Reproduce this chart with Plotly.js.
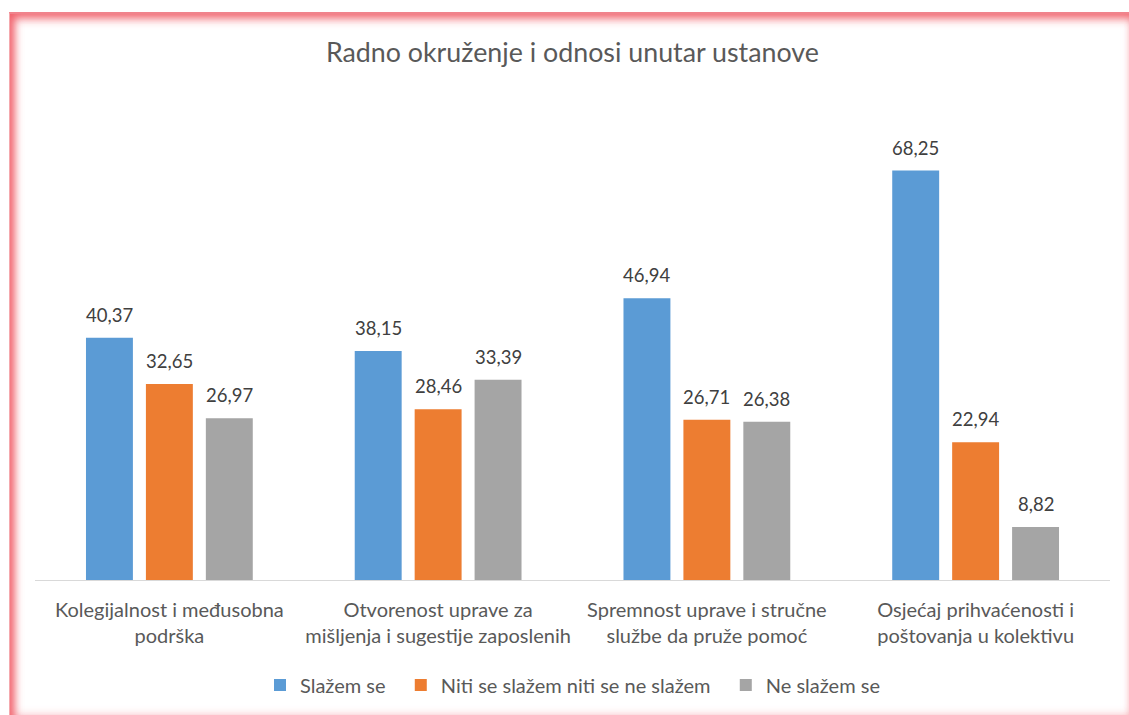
<!DOCTYPE html>
<html><head><meta charset="utf-8">
<script src="https://cdn.plot.ly/plotly-3.0.1.min.js"></script>
<style>
html,body{margin:0;padding:0;background:#fff;}
#wrap{position:relative;width:1129px;height:715px;overflow:hidden;}
#chart{position:absolute;left:0;top:0;width:1129px;height:715px;}
#frame{position:absolute;left:9px;top:12px;width:1124px;height:708px;pointer-events:none;
box-shadow: inset 5px 0 9px rgba(240,90,100,0.75), inset 0 5px 10px rgba(240,90,100,0.7), inset -4px 0 8px rgba(245,140,150,0.35), inset 0 -7px 10px rgba(245,140,150,0.45);
border-top:2px solid rgba(238,110,120,0.85);border-left:1px solid rgba(238,110,120,0.6);}
</style></head>
<body><div id="wrap"><div id="chart"></div><div id="frame"></div></div>
<script>
const categories = [
  "Kolegijalnost i međusobna<br>podrška",
  "Otvorenost uprave za<br>mišljenja i sugestije zaposlenih",
  "Spremnost uprave i stručne<br>službe da pruže pomoć",
  "Osjećaj prihvaćenosti i<br>poštovanja u kolektivu"
];
const seriesNames = ["Slažem se", "Niti se slažem niti se ne slažem", "Ne slažem se"];
const slazem = [40.37, 38.15, 46.94, 68.25];
const niti = [32.65, 28.46, 26.71, 22.94];
const neSlazem = [26.97, 33.39, 26.38, 8.82];
const colors = ["#5B9BD5", "#ED7D31", "#A5A5A5"];
const values = [slazem, niti, neSlazem];

const FONT = "Lato, 'Open Sans', sans-serif";
const fmt = v => v.toFixed(2).replace(".", ",");
const pad = "\u00a0\u00a0";
const traces = values.map((vals, i) => ({
  type: "bar",
  name: i < values.length - 1 ? seriesNames[i] + pad : seriesNames[i],
  x: categories,
  y: vals,
  marker: {color: colors[i]},
  hoverinfo: "none"
}));

// data labels through the axis scales; shift sideways by the grouped-bar slot
const slot = 60;
const annotations = [];
values.forEach((vals, i) => {
  vals.forEach((v, j) => {
    annotations.push({
      x: categories[j], y: v, xref: "x", yref: "y",
      text: fmt(v), showarrow: false,
      xshift: (i - 1) * slot, yshift: 23, yanchor: "middle",
      font: {family: FONT, size: 18.5, color: "#404040"}
    });
  });
});

const layout = {
  width: 1129, height: 715,
  paper_bgcolor: "rgba(0,0,0,0)", plot_bgcolor: "rgba(0,0,0,0)",
  margin: {l: 35, r: 19, t: 100, b: 134},
  title: {text: "Radno okruženje i odnosi unutar ustanove", x: 0.507, xanchor: "center", y: 0.926, yanchor: "middle",
    font: {family: FONT, size: 26.8, color: "#595959"}},
  barmode: "group", bargap: 0.331, bargroupgap: 0.217,
  xaxis: {showgrid: false, showline: true, linecolor: "#D9D9D9", linewidth: 1.3, ticks: "",
    ticklabelstandoff: 12,
    tickfont: {family: FONT, size: 20, color: "#595959"}, fixedrange: true},
  yaxis: {range: [0, 80], showgrid: false, zeroline: false, showticklabels: false, showline: false, fixedrange: true},
  annotations: annotations,
  showlegend: true,
  legend: {orientation: "h", x: 0.5, xanchor: "center", y: -0.216, yanchor: "middle",
    font: {family: FONT, size: 20, color: "#595959"}, itemwidth: 30, traceorder: "normal"}
};
Plotly.newPlot("chart", traces, layout, {displayModeBar: false, staticPlot: true});
</script></body></html>
